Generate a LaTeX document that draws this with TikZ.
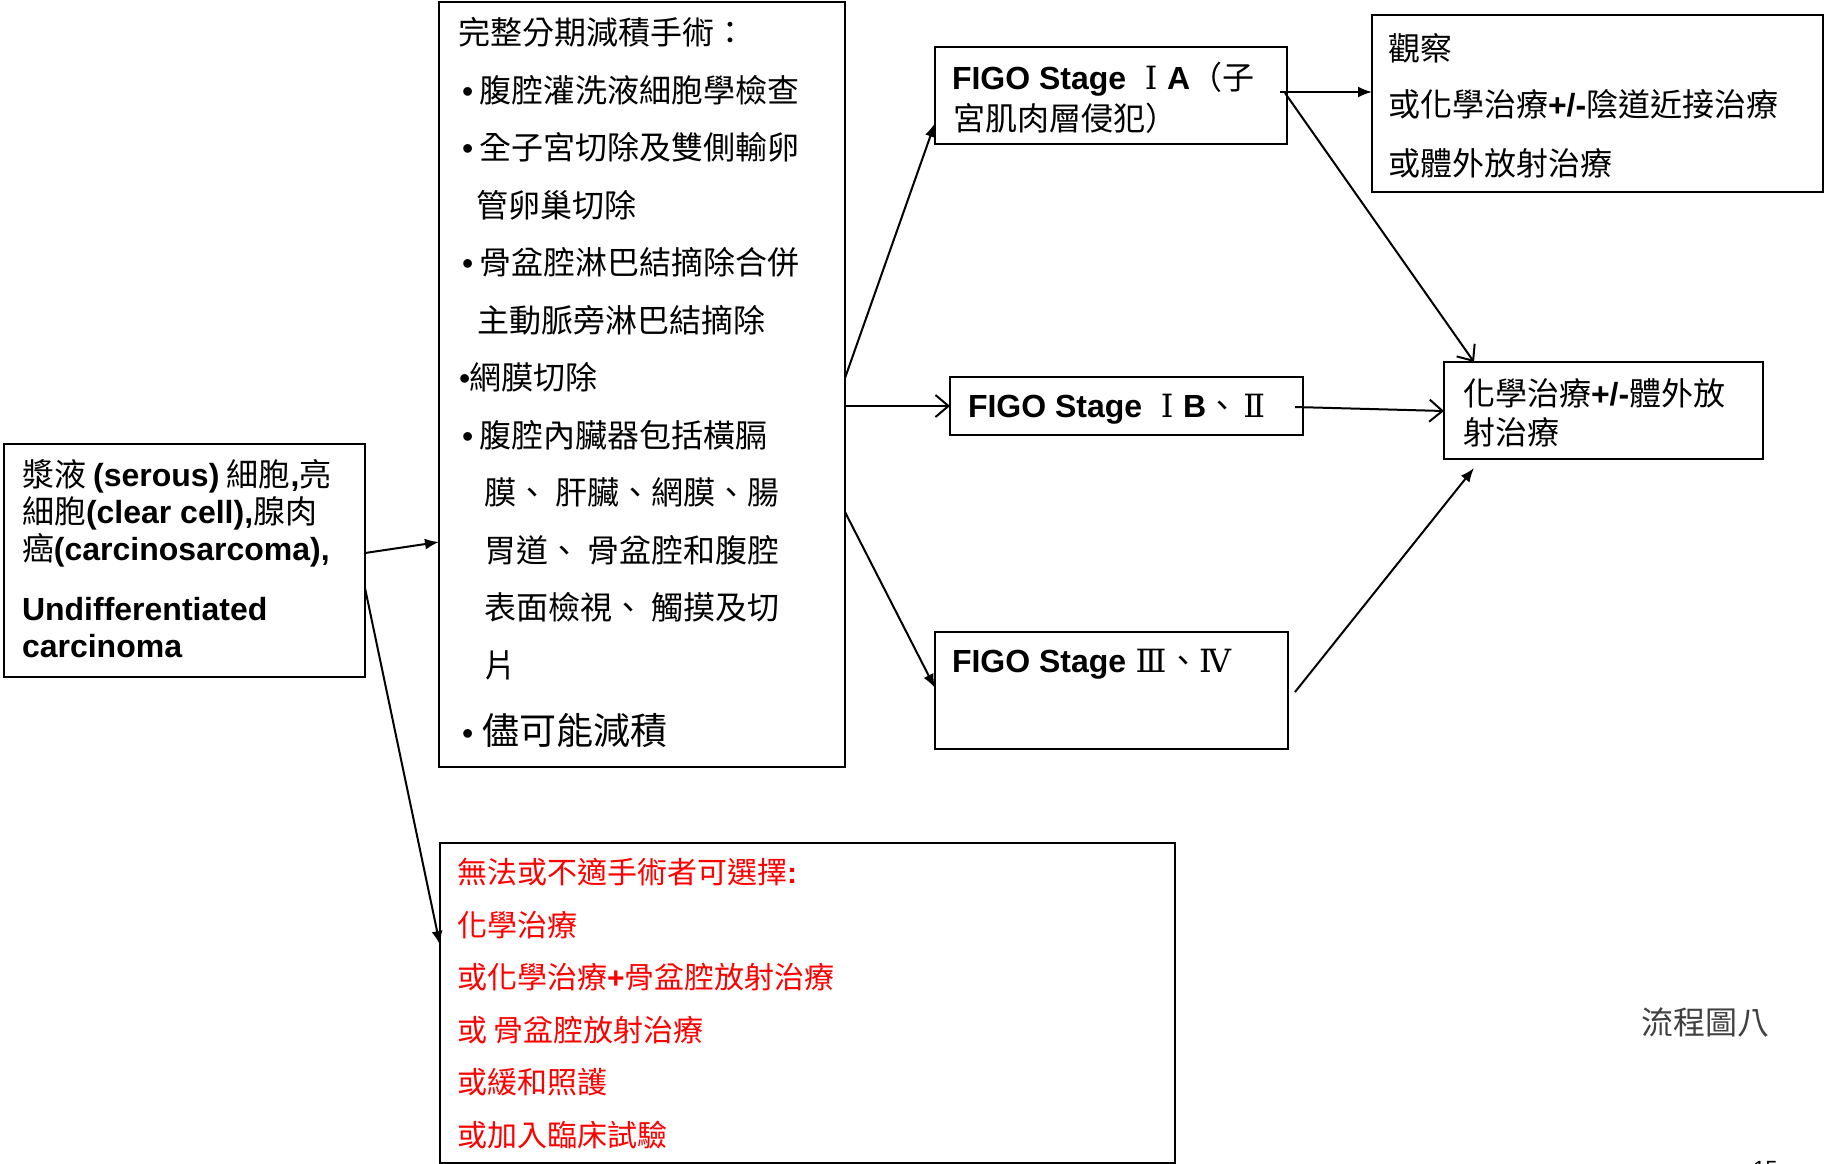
\documentclass[tikz,border=0pt]{standalone}
\usepackage{fontspec}
\setmainfont{Noto Sans CJK TC}
\newfontfamily\arialf{Liberation Sans}
\newfontfamily\romf{DejaVu Serif}
\usetikzlibrary{arrows.meta}
\newcommand\LB[1]{{\arialf\bfseries #1}}
\newcommand\RN[1]{\makebox[1em]{\romf #1}}
\newcommand\fsz[1]{\fontsize{#1}{#1}\selectfont}
\begin{document}
\begin{tikzpicture}[x=1pt,y=-1pt,
  box/.style={draw,line width=2.6pt,inner sep=0pt,outer sep=0pt,anchor=north west},
  txt/.style={anchor=base west,inner sep=0pt,outer sep=0pt,font=\fsz{32}},
  bul/.style={txt,font=\fsz{32}\arialf},
  redtxt/.style={txt,font=\fsz{30},text={rgb,255:red,255;green,0;blue,0}},
  arr/.style={line width=2pt,-{Latex[length=14pt,width=11pt]}},
  oarr/.style={line width=2pt,-{Straight Barb[length=13pt,width=22pt,line width=2pt]}}]
\useasboundingbox (0,0) rectangle (1825,1164);
% boxes
\node[box,minimum width=361pt,minimum height=233pt] (L) at (4,444) {};
\node[box,minimum width=406pt,minimum height=765pt] (M) at (439,2) {};
\node[box,minimum width=352pt,minimum height=97pt] (IA) at (935,47) {};
\node[box,minimum width=451pt,minimum height=177pt] (OB) at (1372,15) {};
\node[box,minimum width=353pt,minimum height=58pt] (IB) at (950,377) {};
\node[box,minimum width=319pt,minimum height=97pt] (CH) at (1444,362) {};
\node[box,minimum width=353pt,minimum height=117pt] (III) at (935,632) {};
\node[box,minimum width=735pt,minimum height=320pt] (R) at (440,843) {};
% left box text
\node[txt] (l1) at (22,486) {漿液 \LB{(serous)} 細胞\LB{,}亮};
\node[txt] (l2) at (22,523) {細胞\LB{(clear cell),}腺肉};
\node[txt] (l3) at (22,560) {癌\LB{(carcinosarcoma),}};
\node[txt] (l4) at (22,620) {\LB{Undifferentiated}};
\node[txt] (l5) at (22,657) {\LB{carcinoma}};
% middle box text
\node[txt] (m1) at (458,44.5) {完整分期減積手術：};
\node[bul] (b2) at (462,102) {•};
\node[txt] (m2) at (479,102) {腹腔灌洗液細胞學檢查};
\node[bul] (b3) at (462,159.5) {•};
\node[txt] (m3) at (479,159.5) {全子宮切除及雙側輸卵};
\node[txt] (m4) at (476,217) {管卵巢切除};
\node[bul] (b5) at (462,274.5) {•};
\node[txt] (m5) at (479,274.5) {骨盆腔淋巴結摘除合併};
\node[txt] (m6) at (477,332) {主動脈旁淋巴結摘除};
\node[bul] (b7) at (459,389.5) {•};
\node[txt] (m7) at (469,389.5) {網膜切除};
\node[bul] (b8) at (462,447) {•};
\node[txt] (m8) at (479,447) {腹腔內臟器包括橫膈};
\node[txt] (m9) at (484,504.5) {膜、 肝臟、網膜、腸};
\node[txt] (m10) at (484,562) {胃道、 骨盆腔和腹腔};
\node[txt] (m11) at (484,619.5) {表面檢視、 觸摸及切};
\node[txt] (m12) at (484,677) {片};
\node[bul] (b13) at (462,744) {•};
\node[txt,font=\fsz{37}] (m13) at (482,744) {儘可能減積};
% stage boxes
\node[txt] (ia1) at (952,89) {\LB{FIGO Stage }\RN{Ⅰ}\LB{A}（子};
\node[txt] (ia2) at (953,130) {宮肌肉層侵犯）};
\node[txt] (ib1) at (968,417) {\LB{FIGO Stage }\RN{Ⅰ}\LB{B}、\RN{Ⅱ}};
\node[txt] (c1) at (952,672) {\LB{FIGO Stage }\RN{Ⅲ}、\RN{Ⅳ}};
% observation box
\node[txt] (o1) at (1388,60) {觀察};
\node[txt] (o2) at (1388,116) {或化學治療\LB{+/-}陰道近接治療};
\node[txt] (o3) at (1388,175) {或體外放射治療};
% chemo box
\node[txt] (h1) at (1463,405) {化學治療\LB{+/-}體外放};
\node[txt] (h2) at (1463,444) {射治療};
% red box
\node[redtxt] (r1) at (457,883) {無法或不適手術者可選擇\LB{:}};
\node[redtxt] (r2) at (457,936) {化學治療};
\node[redtxt] (r3) at (457,988) {或化學治療\LB{+}骨盆腔放射治療};
\node[redtxt] (r4) at (457,1041) {或 骨盆腔放射治療};
\node[redtxt] (r5) at (457,1093) {或緩和照護};
\node[redtxt] (r6) at (457,1146) {或加入臨床試驗};
% caption
\node[txt,text=black!75] (cap) at (1641,1034) {流程圖八};
\node[txt,font=\fsz{22}\arialf] (pg) at (1753,1176) {15};
% connectors
\draw[arr] ([yshift=7.5pt]L.east) -- ([yshift=-157.5pt]M.west);
\draw[arr] ([yshift=-27.5pt]L.east) -- ([yshift=58pt]R.west);
\draw[arr] ([yshift=6.5pt]M.east) -- ([yshift=-27.5pt]IA.west);
\draw[oarr] (M.east |- IB.west) -- (IB.west);
\draw[arr] ([yshift=-127.5pt]M.east) -- ([yshift=2.5pt]III.west);
\draw[arr] ([xshift=-7pt,yshift=3.5pt]IA.east) -- ([yshift=11.5pt]OB.west);
\draw[oarr] ([xshift=-2pt,yshift=2.5pt]IA.east) -- ([xshift=-129.5pt]CH.north);
\draw[oarr] ([xshift=-8pt,yshift=-1pt]IB.east) -- ([yshift=-0.5pt]CH.west);
\draw[arr] ([xshift=7pt,yshift=-1.5pt]III.east) -- ([xshift=-129.5pt,yshift=-9pt]CH.south);
\end{tikzpicture}
\end{document}
